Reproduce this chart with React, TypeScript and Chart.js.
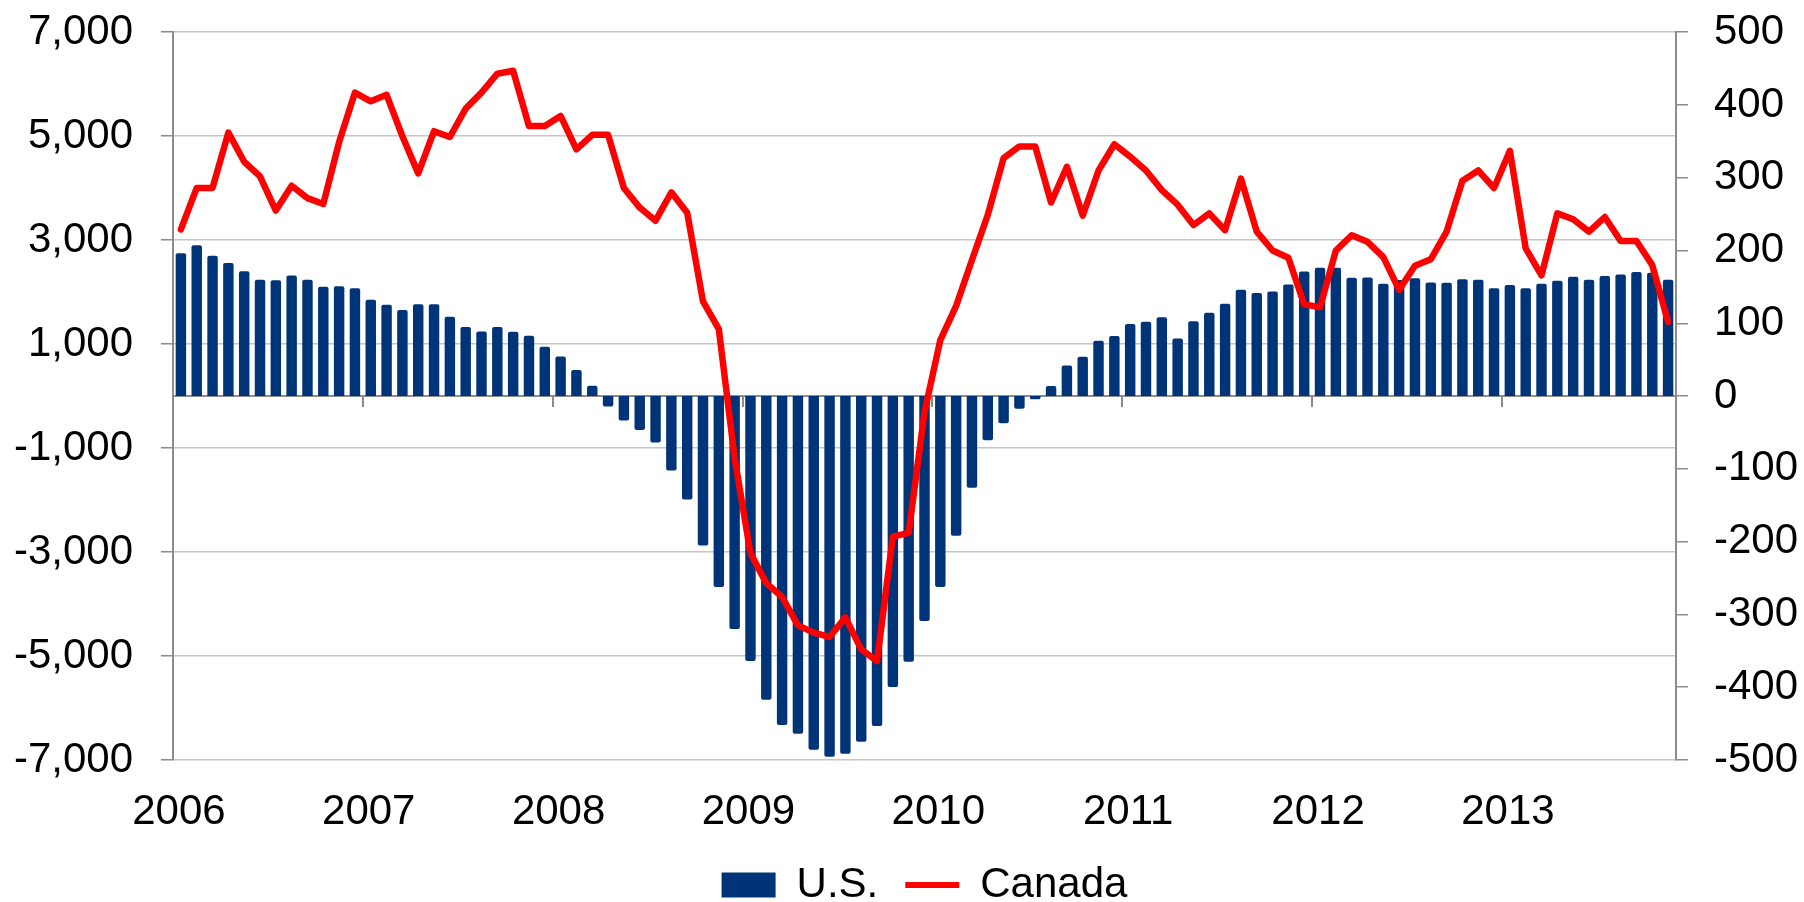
import React, { useEffect, useRef } from 'react';
import { Chart, registerables } from 'chart.js';

Chart.register(...registerables);

const years = ['2006', '2007', '2008', '2009', '2010', '2011', '2012', '2013'];
const months = ['01', '02', '03', '04', '05', '06', '07', '08', '09', '10', '11', '12'];

// U.S. (left axis)
const usValues = [
  2750, 2900, 2700, 2560, 2400, 2240, 2230, 2320, 2237, 2103, 2115, 2077,
  1853, 1756, 1654, 1769, 1769, 1526, 1327, 1244, 1327, 1237, 1160, 949,
  763, 500, 200, -200, -468, -654, -891, -1429, -1987, -2872, -3673, -4481,
  -5096, -5840, -6327, -6494, -6801, -6936, -6878, -6647, -6346, -5596, -5109, -4327,
  -3673, -2686, -1763, -850, -520, -244, -60, 192, 590, 756, 1064, 1154,
  1385, 1429, 1519, 1109, 1442, 1603, 1776, 2045, 1981, 2013, 2147, 2397,
  2468, 2468, 2276, 2282, 2160, 2231, 2269, 2186, 2179, 2250, 2237, 2077,
  2135, 2077, 2160, 2218, 2295, 2237, 2308, 2340, 2385, 2372, 2237,
];

// Canada (right axis)
const canadaValues = [
  229, 286, 286, 362, 322, 302, 255, 289, 272, 264, 349, 417,
  405, 414, 357, 306, 364, 356, 395, 417, 443, 447, 371, 371,
  385, 339, 359, 359, 286, 259, 241, 280, 252, 130, 92, -85,
  -216, -257, -276, -315, -325, -331, -304, -348, -364, -193, -188, -22,
  77, 124, 187, 249, 327, 343, 343, 266, 315, 248, 310, 346,
  329, 310, 283, 263, 235, 251, 228, 299, 226, 200, 190, 126,
  122, 200, 221, 212, 191, 146, 179, 188, 226, 296, 310, 286,
  337, 203, 166, 251, 243, 226, 246, 213, 213, 180, 102,
];

const categories = years
  .flatMap((y) => months.map((m) => `${y}-${m}`))
  .slice(0, usValues.length);

const leftMin = -7000;
const leftMax = 7000;
const leftStep = 2000;
const rightMin = -500;
const rightMax = 500;
const rightStep = 100;

const FONT = "'Liberation Sans', Arial, sans-serif";
const AXIS_GRAY = '#8c8c8c';
const GRID_GRAY = '#c6c6c6';

export default function App() {
  const canvasRef = useRef<HTMLCanvasElement | null>(null);

  useEffect(() => {
    const canvas = canvasRef.current;
    if (!canvas) return;
    const fmt = (v: any) => Number(v).toLocaleString('en-US');

    const chart = new Chart(canvas, {
      type: 'bar',
      data: {
        labels: categories,
        datasets: [
          {
            type: 'bar',
            label: 'U.S.',
            data: usValues,
            backgroundColor: '#003478',
            borderWidth: 0,
            borderRadius: 2,
            barPercentage: 0.66,
            categoryPercentage: 1,
            xAxisID: 'x',
            yAxisID: 'y',
            order: 1,
          } as any,
          {
            type: 'line',
            label: 'Canada',
            data: canadaValues,
            borderColor: '#ff0000',
            backgroundColor: '#ff0000',
            borderWidth: 6.5,
            pointRadius: 0,
            tension: 0,
            borderJoinStyle: 'round',
            borderCapStyle: 'round',
            xAxisID: 'x',
            yAxisID: 'y1',
            order: 0,
          } as any,
        ],
      },
      options: {
        responsive: false,
        animation: false,
        devicePixelRatio: 1,
        layout: { padding: { top: 32, left: 0, right: 0, bottom: -14 } },
        plugins: {
          tooltip: { enabled: false },
          legend: {
            display: true,
            position: 'bottom',
            fullSize: false,
            labels: {
              font: { family: FONT, size: 42 },
              color: '#000',
              usePointStyle: true,
              pointStyleWidth: 54,
              boxHeight: 25,
              padding: 27,
              sort: (a: any, b: any) => a.datasetIndex - b.datasetIndex,
              generateLabels: (c: any) =>
                Chart.defaults.plugins.legend.labels.generateLabels(c).map((l: any) =>
                  l.datasetIndex === 0
                    ? { ...l, pointStyle: 'rect', lineWidth: 0, fillStyle: '#003478', strokeStyle: '#003478' }
                    : { ...l, pointStyle: 'line', lineWidth: 6, strokeStyle: '#ff0000', fillStyle: '#ff0000' }
                ),
            },
          },
        },
        scales: {
          x: {
            type: 'category',
            position: { y: 0 } as any,
            offset: true,
            grid: {
              offset: true,
              drawOnChartArea: false,
              drawTicks: true,
              tickLength: 10,
              lineWidth: 2,
              color: (ctx: any) => (ctx.index % 12 === 0 ? AXIS_GRAY : 'rgba(0,0,0,0)'),
            },
            border: { display: true, color: AXIS_GRAY, width: 2 },
            ticks: { display: false, autoSkip: false },
          },
          x2: {
            type: 'category',
            labels: categories,
            position: 'bottom',
            offset: true,
            grid: { display: false, drawTicks: false },
            border: { display: false },
            ticks: {
              autoSkip: false,
              maxRotation: 0,
              minRotation: 0,
              labelOffset: -2,
              padding: 27,
              color: '#000',
              font: { family: FONT, size: 42 },
              callback: (_v: any, i: number) => (i % 12 === 0 ? years[i / 12] : ''),
            },
            afterFit: (s: any) => {
              s.height = 77;
            },
          },
          y: {
            position: 'left',
            min: leftMin,
            max: leftMax,
            ticks: {
              stepSize: leftStep,
              color: '#000',
              padding: 28,
              font: { family: FONT, size: 42, lineHeight: 0.2 },
              callback: fmt,
            },
            grid: {
              color: GRID_GRAY,
              lineWidth: 1.5,
              tickColor: AXIS_GRAY,
              tickLength: 12,
            },
            border: { display: true, color: AXIS_GRAY, width: 2 },
            afterFit: (s: any) => {
              s.width = 173;
            },
          },
          y1: {
            position: 'right',
            min: rightMin,
            max: rightMax,
            ticks: {
              stepSize: rightStep,
              color: '#000',
              padding: 26,
              font: { family: FONT, size: 42, lineHeight: 0.2 },
              callback: fmt,
            },
            grid: {
              drawOnChartArea: false,
              tickColor: AXIS_GRAY,
              tickLength: 12,
              lineWidth: 1.5,
            },
            border: { display: true, color: AXIS_GRAY, width: 2 },
            afterFit: (s: any) => {
              s.width = 128;
            },
          },
        },
      } as any,
    });
    return () => chart.destroy();
  }, []);

  return (
    <div style={{ position: 'fixed', left: 0, top: 0, width: 1804, height: 902, background: '#fff' }}>
      <canvas ref={canvasRef} width={1804} height={902} style={{ display: 'block' }} />
    </div>
  );
}
